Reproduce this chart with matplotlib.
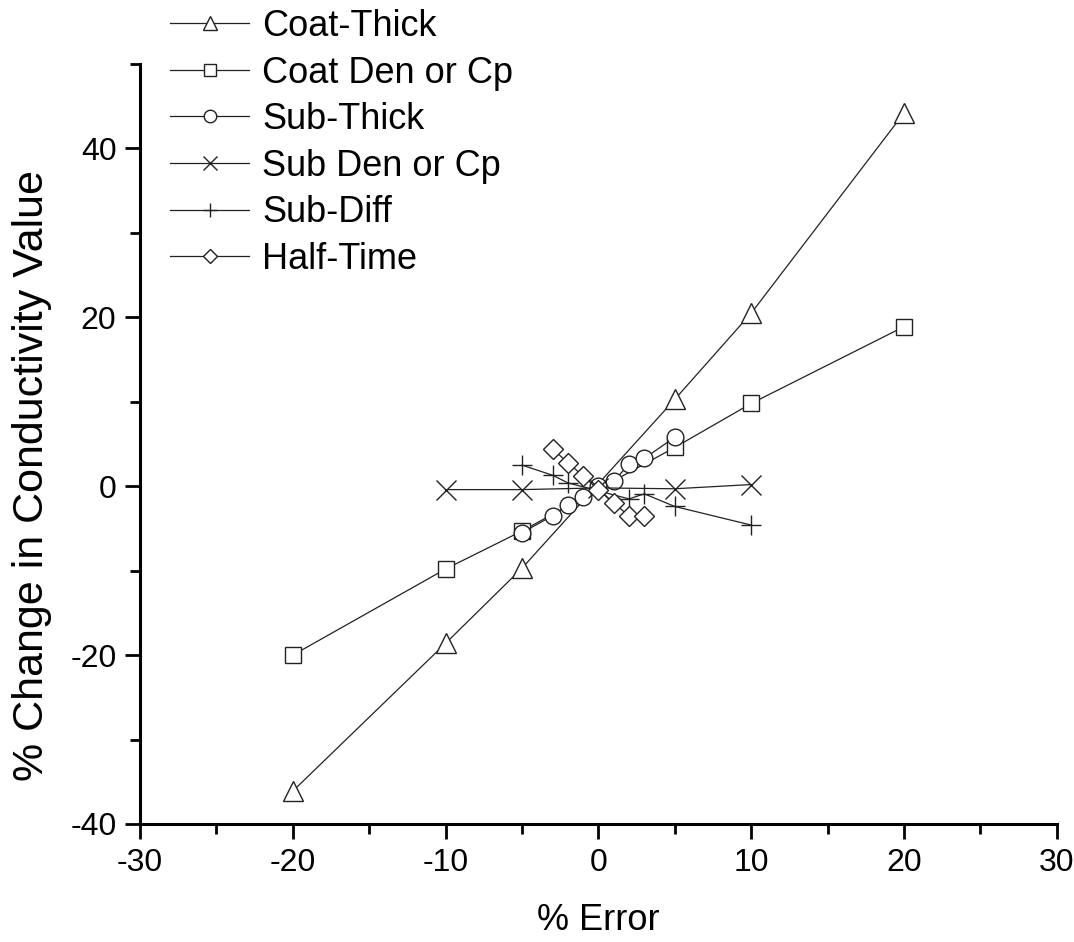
import matplotlib
matplotlib.use("Agg")
from matplotlib import pyplot as plt
from matplotlib.ticker import MultipleLocator

# data
coat_thick_x = [-20, -10, -5, 5, 10, 20]
coat_thick_y = [-36.1, -18.6, -9.7, 10.3, 20.5, 44.2]

coat_den_x = [-20, -10, -5, 5, 10, 20]
coat_den_y = [-20.0, -9.8, -5.3, 4.6, 9.8, 18.9]

sub_thick_x = [-5, -3, -2, -1, 0, 1, 2, 3, 5]
sub_thick_y = [-5.5, -3.5, -2.2, -1.3, 0.0, 0.6, 2.6, 3.3, 5.8]

sub_den_x = [-10, -5, 0, 5, 10]
sub_den_y = [-0.4, -0.4, -0.2, -0.3, 0.2]

sub_diff_x = [-5, -3, -2, 2, 3, 5, 10]
sub_diff_y = [2.5, 1.3, 0.4, -1.5, -0.9, -2.4, -4.6]

half_time_x = [-3, -2, -1, 0, 1, 2, 3]
half_time_y = [4.4, 2.8, 1.2, -0.4, -2.0, -3.5, -3.5]

series = [
    ("Coat-Thick", coat_thick_x, coat_thick_y, "^", 14),
    ("Coat Den or Cp", coat_den_x, coat_den_y, "s", 12),
    ("Sub-Thick", sub_thick_x, sub_thick_y, "o", 12),
    ("Sub Den or Cp", sub_den_x, sub_den_y, "x", 14),
    ("Sub-Diff", sub_diff_x, sub_diff_y, "+", 14),
    ("Half-Time", half_time_x, half_time_y, "D", 10),
]

plt.rcParams["font.family"] = ["Liberation Sans", "DejaVu Sans"]
plt.rcParams["axes.unicode_minus"] = False

fig = plt.figure(figsize=(10.74, 9.42), dpi=100)
ax = fig.add_axes([0.1304, 0.1253, 0.8536, 0.8067])

handles = []
for label, xs, ys, marker, ms in series:
    h, = ax.plot(xs, ys, color="#222222", lw=0.9, marker=marker, markersize=ms,
                 markerfacecolor="white", markeredgecolor="#222222",
                 markeredgewidth=1.0, label=label)
    handles.append(h)

ax.set_xlim(-30, 30)
ax.set_ylim(-40, 50)
ax.xaxis.set_major_locator(MultipleLocator(10))
ax.xaxis.set_minor_locator(MultipleLocator(5))
ax.yaxis.set_minor_locator(MultipleLocator(10))
ax.set_yticks([-40, -20, 0, 20, 40])

for side in ("top", "right"):
    ax.spines[side].set_visible(False)
for side in ("left", "bottom"):
    ax.spines[side].set_linewidth(2.2)

ax.tick_params(which="major", direction="out", length=11, width=2, labelsize=23, pad=6)
ax.tick_params(which="minor", direction="out", length=7, width=2)

ax.set_xlabel("% Error", fontsize=26, labelpad=18)
ax.set_ylabel("% Change in Conductivity Value", fontsize=31)
ax.yaxis.set_label_coords(-0.096, 0.458)

fig.legend(handles=handles, loc="upper left", bbox_to_anchor=(0.128, 1.025),
           frameon=False, fontsize=26, handlelength=2.2, handletextpad=0.35,
           labelspacing=0.32, markerscale=0.75)

fig.savefig("out.png", dpi=100)
